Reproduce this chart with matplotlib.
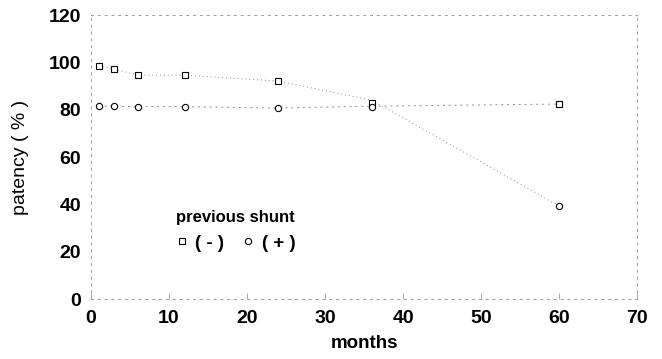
import matplotlib.pyplot as plt
import numpy as np

# dados (meses x patência %)
months = [1, 3, 6, 12, 24, 36, 60]
shunt_neg = [98.4, 97.2, 94.6, 94.6, 92.1, 82.8, 82.4]   # quadrados ( - )
shunt_pos = [81.5, 81.5, 81.3, 81.3, 80.7, 81.0, 39.3]   # círculos ( + )

# curvas pontilhadas que ligam os pontos
curve_upper = [98.4, 97.2, 94.6, 94.6, 92.1, 84.0, 39.3]
curve_lower = [81.5, 81.5, 81.3, 81.3, 80.7, 81.5, 82.4]

xticks = [0, 10, 20, 30, 40, 50, 60, 70]
yticks = [0, 20, 40, 60, 80, 100, 120]

plt.rcParams['font.family'] = ['Liberation Sans', 'DejaVu Sans']

fig = plt.figure(figsize=(6.62, 3.59), dpi=100)
ax = fig.add_axes([0.1375, 0.167, 0.825, 0.791])

ax.plot(months, curve_upper, color='#888888', lw=0.7, ls=(0, (1, 3)))
ax.plot(months, curve_lower, color='#888888', lw=0.7, ls=(0, (2, 4)))

ax.plot(months, shunt_neg, ls='none', marker='s', ms=5, mfc='white',
        mec='black', mew=0.8, label='( - )')
ax.plot(months, shunt_pos, ls='none', marker='o', ms=4.5, mfc='white',
        mec='black', mew=0.8, label='( + )')

ax.set_xlim(0, 70)
ax.set_ylim(0, 120)
ax.set_xticks(xticks)
ax.set_yticks(yticks)

for side in ['left', 'bottom', 'top', 'right']:
    ax.spines[side].set_color('#999999')
    ax.spines[side].set_linewidth(0.7)
    ax.spines[side].set_linestyle((0, (2, 5)))

ax.tick_params(axis='x', direction='in', length=4, width=0.6, color='#999999',
               pad=8, labelsize=14)
ax.tick_params(axis='y', direction='in', length=0, pad=7, labelsize=14)
for lab in ax.get_xticklabels() + ax.get_yticklabels():
    lab.set_fontweight('bold')

ax.set_xlabel('months', fontsize=13.5, fontweight='bold', labelpad=6)
ax.set_ylabel('patency ( % )', fontsize=14, labelpad=14)

leg = ax.legend(loc='center', bbox_to_anchor=(0.265, 0.24), ncol=2,
                frameon=False, title='previous shunt', handlelength=0.6,
                handletextpad=0.4, columnspacing=1.0,
                prop={'weight': 'bold', 'size': 13.5},
                title_fontproperties={'weight': 'bold', 'size': 12})

fig.savefig('out.png', dpi=100)
